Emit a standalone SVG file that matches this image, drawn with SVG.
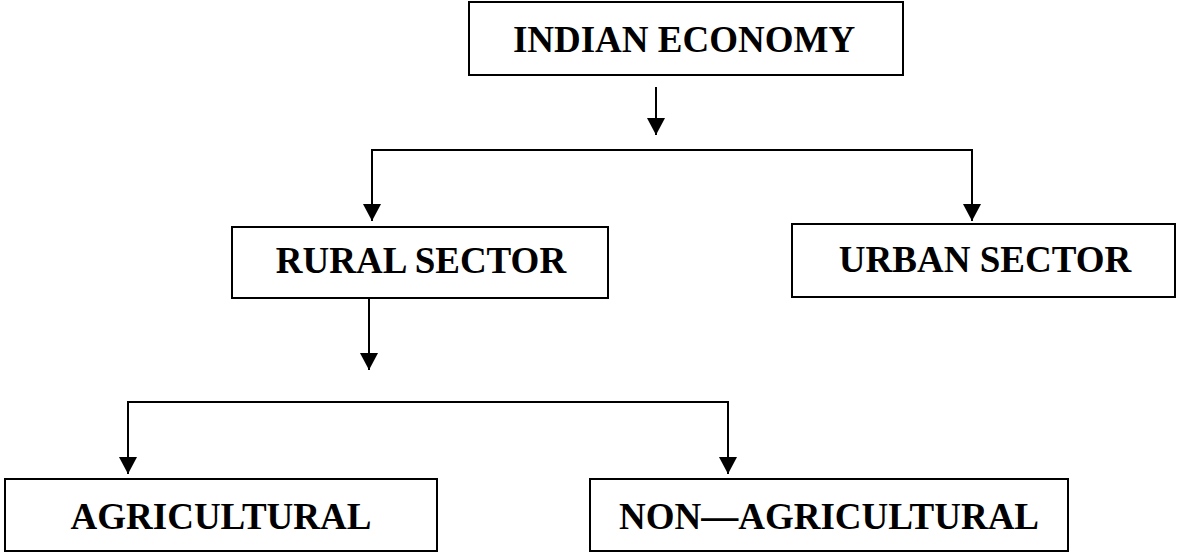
<svg xmlns="http://www.w3.org/2000/svg" width="1177" height="553" viewBox="0 0 1177 553">
<style>
.box{fill:#fff;stroke:#000;stroke-width:2}
.lbl{font-family:"Liberation Serif","Times New Roman",serif;font-weight:bold;font-size:37px;fill:#000;text-anchor:middle}
.ln{fill:none;stroke:#000;stroke-width:2}
</style>
<defs>
<marker id="ah" markerUnits="userSpaceOnUse" markerWidth="18" markerHeight="18" refX="17" refY="9" orient="auto">
<path d="M0,0 L17,9 L0,18 Z" fill="#000"/>
</marker>
</defs>
<rect width="1177" height="553" fill="#fff"/>
<g id="connectors">
<line class="ln" x1="656" y1="87" x2="656" y2="135" marker-end="url(#ah)"/>
<line class="ln" x1="371" y1="150" x2="973" y2="150"/>
<line class="ln" x1="372" y1="150" x2="372" y2="221" marker-end="url(#ah)"/>
<line class="ln" x1="972" y1="150" x2="972" y2="221" marker-end="url(#ah)"/>
<line class="ln" x1="369" y1="298" x2="369" y2="370" marker-end="url(#ah)"/>
<line class="ln" x1="127" y1="402" x2="729" y2="402"/>
<line class="ln" x1="128" y1="402" x2="128" y2="474" marker-end="url(#ah)"/>
<line class="ln" x1="728" y1="402" x2="728" y2="474" marker-end="url(#ah)"/>
</g>
<g id="indian-economy">
<rect class="box" x="469" y="2" width="434" height="73"/>
<text class="lbl" x="684" y="52">INDIAN ECONOMY</text>
</g>
<g id="rural-sector">
<rect class="box" x="232" y="227" width="376" height="71"/>
<text class="lbl" x="421" y="273">RURAL SECTOR</text>
</g>
<g id="urban-sector">
<rect class="box" x="792" y="224" width="383" height="73"/>
<text class="lbl" x="985" y="272">URBAN SECTOR</text>
</g>
<g id="agricultural">
<rect class="box" x="5" y="479" width="432" height="72"/>
<text class="lbl" x="221" y="529">AGRICULTURAL</text>
</g>
<g id="non-agricultural">
<rect class="box" x="590" y="479" width="478" height="72"/>
<text class="lbl" x="829" y="529">NON—AGRICULTURAL</text>
</g>
</svg>
